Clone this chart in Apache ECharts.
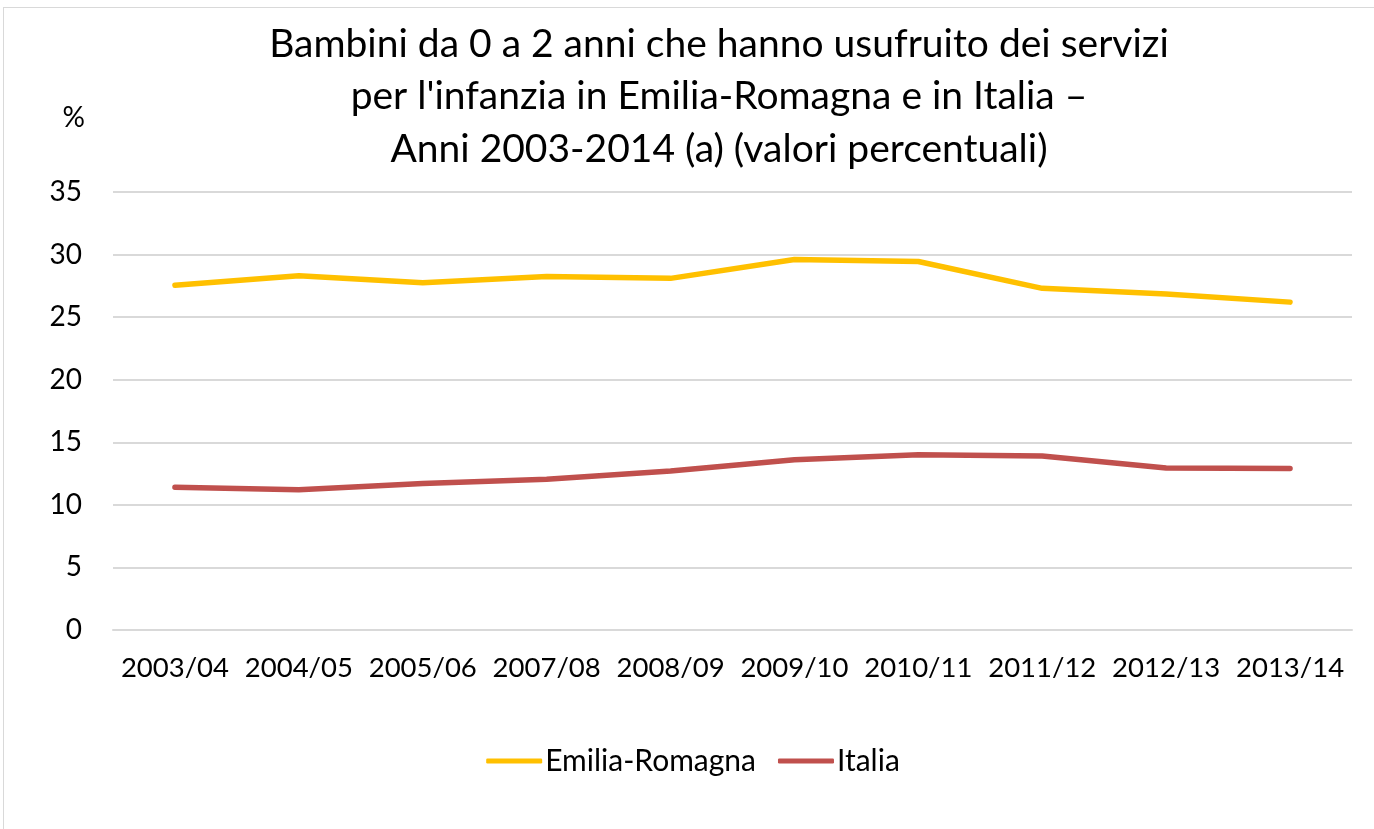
<!DOCTYPE html>
<html>
<head>
<meta charset="utf-8">
<script src="https://cdn.jsdelivr.net/npm/echarts@6/dist/echarts.min.js"></script>
<style>
  html, body { margin: 0; padding: 0; background: #fff; }
  #container { position: absolute; left: 3px; top: 7px; width: 1380px; height: 840px;
    border: 1px solid #d9d9d9; box-sizing: border-box; }
</style>
</head>
<body>
<div id="container"></div>
<script>
var categories = ['2003/04', '2004/05', '2005/06', '2007/08', '2008/09', '2009/10', '2010/11', '2011/12', '2012/13', '2013/14'];
var emiliaRomagna = [27.55, 28.3, 27.75, 28.25, 28.1, 29.6, 29.45, 27.3, 26.85, 26.2];
var italia = [11.4, 11.2, 11.7, 12.05, 12.7, 13.6, 14.0, 13.9, 12.95, 12.9];

var dom = document.getElementById('container');
var myChart = echarts.init(dom, null, { renderer: 'canvas' });
var font = 'Lato, "Open Sans", sans-serif';

var option = {
    animation: false,
    textStyle: { fontFamily: font },
    title: {
        text: "Bambini da 0 a 2 anni che hanno usufruito dei servizi\nper l'infanzia in Emilia-Romagna e in Italia –\nAnni 2003-2014 (a) (valori percentuali)",
        left: 710,
        top: 5,
        textAlign: 'center',
        textStyle: { fontFamily: font, fontWeight: 'normal', fontSize: 39, color: '#000', lineHeight: 52.5 }
    },
    legend: {
        bottom: 65,
        left: 'center',
        itemWidth: 56,
        itemHeight: 5,
        itemGap: 22,
        icon: 'roundRect',
        textStyle: { fontSize: 30, color: '#000', fontFamily: font, padding: [0, 0, 0, -2] },
        data: ['Emilia-Romagna', 'Italia']
    },
    grid: { left: 109, right: 30, top: 184, bottom: 216 },
    xAxis: {
        type: 'category',
        data: categories,
        axisTick: { show: false },
        axisLine: { lineStyle: { color: '#d9d9d9', width: 2 } },
        axisLabel: { fontSize: 27.5, color: '#000', margin: 24, interval: 0, hideOverlap: false }
    },
    yAxis: {
        type: 'value',
        min: 0,
        max: 35,
        interval: 5,
        name: '%',
        nameLocation: 'end',
        nameGap: 60,
        nameTextStyle: { fontSize: 28, color: '#000', align: 'right', padding: [0, 28, 0, 0] },
        axisLine: { show: false },
        axisTick: { show: false },
        axisLabel: { fontSize: 28, color: '#000', margin: 31 },
        splitLine: { lineStyle: { color: '#d9d9d9', width: 2 } }
    },
    series: [
        {
            name: 'Emilia-Romagna',
            type: 'line',
            data: emiliaRomagna,
            symbol: 'none',
            lineStyle: { color: '#ffc000', width: 5.5, cap: 'round' },
            itemStyle: { color: '#ffc000' }
        },
        {
            name: 'Italia',
            type: 'line',
            data: italia,
            symbol: 'none',
            lineStyle: { color: '#c0504d', width: 5.5, cap: 'round' },
            itemStyle: { color: '#c0504d' }
        }
    ]
};

myChart.setOption(option);
window.addEventListener('resize', myChart.resize);
</script>
</body>
</html>
